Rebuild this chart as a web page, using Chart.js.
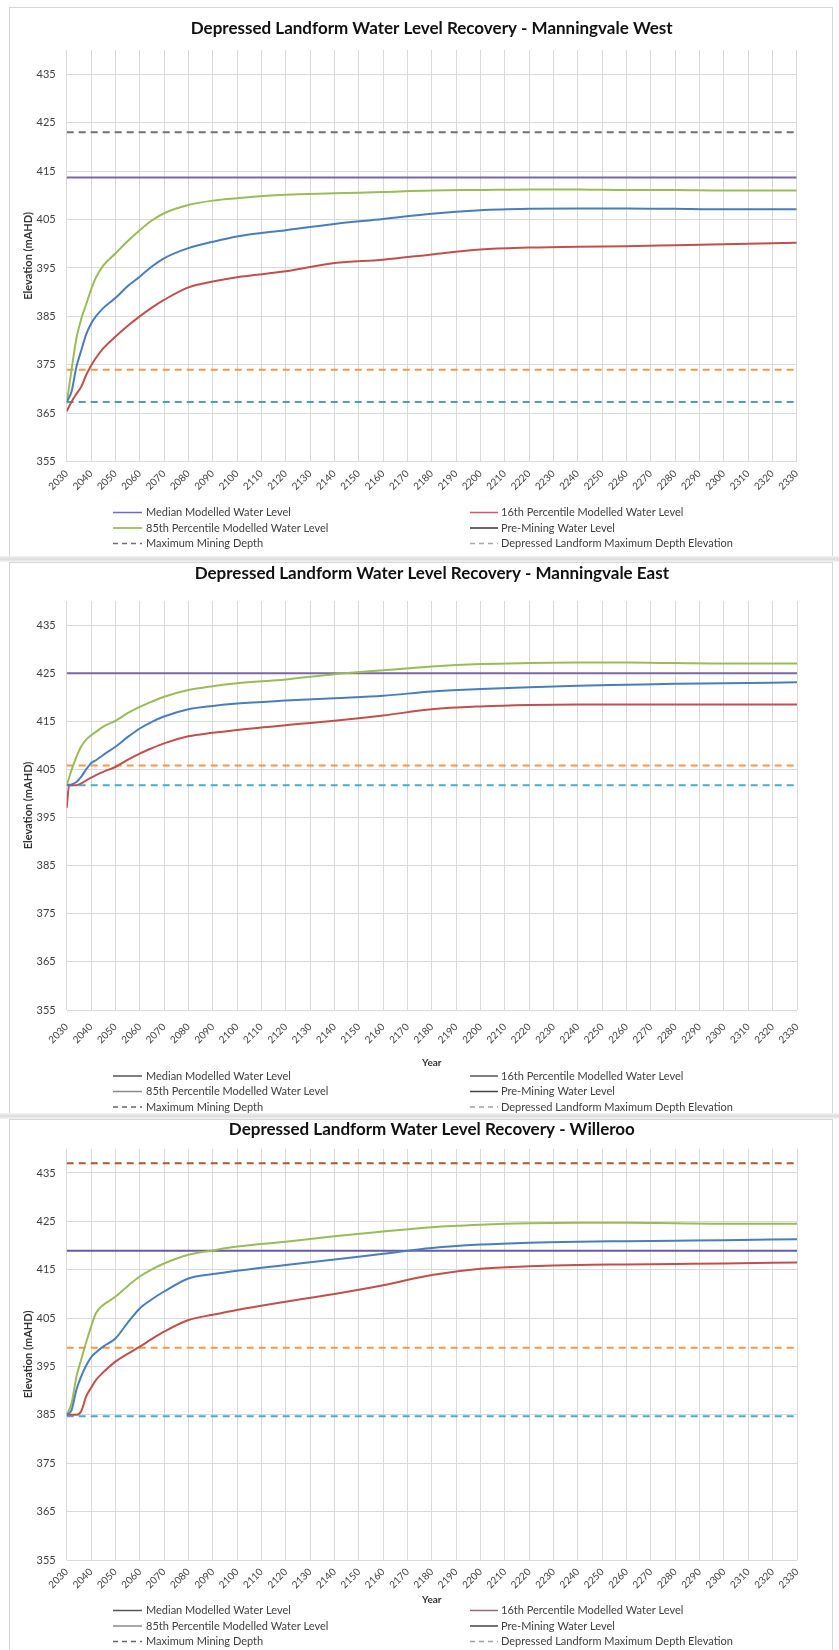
<!DOCTYPE html>
<html>
<head>
<meta charset="utf-8">
<script src="https://cdn.jsdelivr.net/npm/chart.js@4.4.1/dist/chart.umd.min.js"></script>
<style>
  html, body { margin: 0; padding: 0; background: #fff; }
  body { width: 839px; height: 1650px; position: relative; overflow: hidden; }
  .panel { position: absolute; left: 0; }
  .frame { position: absolute; border: 1px solid #d6d6d6; box-sizing: border-box; }
  .band { position: absolute; left: 0; width: 839px; height: 6px;
          background: linear-gradient(#f4f4f4, #dcdcdc, #f4f4f4); }
</style>
</head>
<body>
<div class="frame" style="left:9px;top:7px;width:824px;height:550px"></div>
<div class="band" style="top:556px"></div>
<div class="frame" style="left:9px;top:562px;width:824px;height:552px"></div>
<div class="band" style="top:1113px"></div>
<div class="frame" style="left:9px;top:1119px;width:824px;height:540px"></div>

<canvas id="mw" class="panel" style="top:0px" width="839" height="558"></canvas>
<canvas id="me" class="panel" style="top:558px" width="839" height="558"></canvas>
<canvas id="wl" class="panel" style="top:1116px" width="839" height="534"></canvas>

<script>
// ---- Axis ticks ----
const yTicks = [355, 365, 375, 385, 395, 405, 415, 425, 435];
const xTicks = [2030, 2040, 2050, 2060, 2070, 2080, 2090, 2100, 2110, 2120, 2130, 2140, 2150, 2160,
                2170, 2180, 2190, 2200, 2210, 2220, 2230, 2240, 2250, 2260, 2270, 2280, 2290, 2300,
                2310, 2320, 2330];

const legendLabels = [
  'Median Modelled Water Level',
  '16th Percentile Modelled Water Level',
  '85th Percentile Modelled Water Level',
  'Pre-Mining Water Level',
  'Maximum Mining Depth',
  'Depressed Landform Maximum Depth Elevation'
];

// ---- Manningvale West ----
const mwYears  = [2030, 2032, 2034, 2036, 2038, 2040, 2042, 2045, 2050, 2055, 2060, 2065, 2070, 2080,
                  2090, 2100, 2120, 2140, 2160, 2180, 2200, 2220, 2240, 2260, 2280, 2300, 2330];
const mwMedian = [367.3, 369.5, 374.6, 378.0, 381.3, 383.5, 385.0, 386.7, 388.8, 391.2, 393.2, 395.3, 397.0, 399.1,
                  400.4, 401.5, 402.8, 404.1, 405.1, 406.2, 406.9, 407.2, 407.3, 407.3, 407.2, 407.1, 407.1];
const mw16th   = [365.4, 367.4, 369.0, 370.5, 372.9, 374.8, 376.4, 378.4, 380.8, 383.0, 385.0, 386.8, 388.4, 391.0,
                  392.2, 393.1, 394.3, 396.0, 396.7, 397.8, 398.8, 399.2, 399.4, 399.5, 399.7, 399.9, 400.2];
const mw85th   = [367.0, 374.0, 380.5, 384.5, 387.5, 390.5, 393.0, 395.5, 398.0, 400.5, 402.8, 404.8, 406.3, 408.0,
                  408.9, 409.4, 410.1, 410.4, 410.7, 411.0, 411.1, 411.2, 411.2, 411.1, 411.1, 411.0, 411.0];
const mwPreMining = 413.7;
const mwUpperDash = 423.0;
const mwMaxMiningDepth = 374.0;
const mwLandformDepth = 367.3;

// ---- Manningvale East ----
const meYears  = [2030, 2031, 2032, 2034, 2036, 2038, 2040, 2042, 2045, 2050, 2055, 2060, 2065, 2070,
                  2080, 2090, 2100, 2120, 2140, 2160, 2180, 2200, 2220, 2240, 2260, 2280, 2300, 2330];
const meMedian = [401.7, 401.8, 401.9, 402.4, 403.5, 405.0, 406.3, 406.9, 408.0, 409.7, 411.7, 413.5, 414.9, 416.0,
                  417.5, 418.2, 418.7, 419.3, 419.8, 420.3, 421.2, 421.7, 422.1, 422.4, 422.6, 422.8, 422.9, 423.1];
const me16th   = [397.0, 401.7, 401.7, 401.7, 402.1, 402.7, 403.3, 403.8, 404.5, 405.5, 407.0, 408.3, 409.4, 410.4,
                  411.9, 412.6, 413.2, 414.2, 415.1, 416.2, 417.5, 418.1, 418.4, 418.5, 418.5, 418.5, 418.5, 418.5];
const me85th   = [401.7, 403.3, 404.9, 407.6, 409.8, 411.2, 412.1, 412.8, 413.9, 415.1, 416.7, 418.0, 419.1, 420.1,
                  421.5, 422.3, 422.9, 423.7, 424.8, 425.6, 426.4, 426.9, 427.1, 427.2, 427.2, 427.1, 427.0, 427.0];
const mePreMining = 425.0;
const meMaxMiningDepth = 405.8;
const meLandformDepth = 401.7;

// ---- Willeroo ----
const wlYears  = [2030, 2032, 2034, 2036, 2038, 2040, 2042, 2045, 2050, 2055, 2060, 2065, 2070, 2080,
                  2090, 2100, 2120, 2140, 2160, 2180, 2200, 2220, 2240, 2260, 2280, 2300, 2330];
const wlMedian = [385.0, 386.0, 390.2, 393.0, 395.2, 396.9, 397.9, 399.1, 400.8, 404.0, 407.0, 408.9, 410.5, 413.2,
                  414.1, 414.8, 416.0, 417.1, 418.3, 419.5, 420.2, 420.6, 420.8, 420.9, 421.0, 421.1, 421.3];
const wl16th   = [385.0, 385.0, 385.0, 385.8, 388.8, 390.6, 392.2, 393.8, 396.0, 397.6, 399.1, 400.7, 402.2, 404.6,
                  405.7, 406.7, 408.4, 410.0, 411.8, 413.9, 415.2, 415.7, 416.0, 416.1, 416.2, 416.3, 416.5];
const wl85th   = [385.0, 387.4, 392.9, 396.5, 400.0, 403.2, 406.0, 407.7, 409.4, 411.6, 413.6, 415.1, 416.3, 418.1,
                  419.0, 419.8, 420.8, 421.9, 422.9, 423.8, 424.3, 424.6, 424.7, 424.7, 424.6, 424.5, 424.5];
const wlPreMining = 418.9;
const wlUpperDash = 437.0;
const wlMaxMiningDepth = 398.9;
const wlLandformDepth = 384.7;

// ---- helpers ----
const FONT = 'Lato, "Open Sans", "DejaVu Sans", sans-serif';
const pts = (xs, ys) => xs.map((x, i) => ({ x: x, y: ys[i] }));
const flat = v => [{ x: xTicks[0], y: v }, { x: xTicks[xTicks.length - 1], y: v }];

function curve(label, xs, ys, color) {
  return { label, data: pts(xs, ys), borderColor: color, borderWidth: 2,
           pointRadius: 0, cubicInterpolationMode: 'monotone', fill: false };
}
function level(label, v, color, dashed) {
  return { label, data: flat(v), borderColor: color, borderWidth: 2,
           borderDash: dashed ? [7, 5] : [], pointRadius: 0, fill: false };
}

// two-column legend under the plot
const gridLegend = {
  id: 'gridLegend',
  afterDraw(chart, args, opts) {
    if (!opts || !opts.items) return;
    const ctx = chart.ctx;
    ctx.save();
    ctx.font = opts.font;
    ctx.textBaseline = 'middle';
    ctx.textAlign = 'left';
    opts.items.forEach((it, i) => {
      const col = opts.columns[i % 2];
      const y = opts.rows[Math.floor(i / 2)];
      ctx.strokeStyle = it.color;
      ctx.lineWidth = 1.5;
      ctx.setLineDash(it.dash ? [5, 4] : []);
      ctx.beginPath();
      ctx.moveTo(col.x0, y);
      ctx.lineTo(col.x1, y);
      ctx.stroke();
      ctx.setLineDash([]);
      ctx.fillStyle = opts.color;
      ctx.fillText(it.text, col.tx, y);
    });
    ctx.restore();
  }
};

function build(id, cfg) {
  const lay = cfg.layout;   // pixel targets within the canvas
  const canvas = document.getElementById(id);
  const H = canvas.height, W = canvas.width;
  const titleSize = 17;
  const titleLH = titleSize * 1.2;
  const yAxisW = 60;
  const xAxisH = lay.xAxisH;
  const padLeft = lay.plotLeft - yAxisW;
  const padRight = W - lay.plotRight;
  const padBottom = H - lay.plotBottom - xAxisH;
  const tTop = lay.titleY - titleLH / 2;
  const tBottom = lay.plotTop - tTop - titleLH;

  new Chart(canvas, {
    type: 'line',
    data: { datasets: cfg.datasets },
    plugins: [gridLegend],
    options: {
      responsive: false,
      animation: false,
      devicePixelRatio: 1,
      layout: { padding: { left: padLeft, right: padRight, top: 0, bottom: padBottom } },
      plugins: {
        legend: { display: false },
        tooltip: { enabled: false },
        title: {
          display: true, text: cfg.title, fullSize: false, color: '#111',
          font: { family: FONT, size: titleSize, weight: 'bold', lineHeight: 1.2 },
          padding: { top: tTop, bottom: tBottom }
        },
        gridLegend: {
          font: '11px ' + FONT, color: '#404040',
          rows: lay.legendRows,
          columns: [{ x0: 113, x1: 142, tx: 146 }, { x0: 470, x1: 498, tx: 501 }],
          items: cfg.legend
        }
      },
      scales: {
        x: {
          type: 'linear', min: xTicks[0], max: xTicks[xTicks.length - 1],
          afterBuildTicks: ax => { ax.ticks = xTicks.map(v => ({ value: v })); },
          afterFit: ax => { ax.height = xAxisH; },
          ticks: { autoSkip: false, minRotation: 45, maxRotation: 45, padding: lay.xLabelPad,
                   color: '#404040', font: { family: FONT, size: 10 },
                   callback: v => String(v) },
          grid: { color: '#d9d9d9', lineWidth: 1, drawTicks: false },
          border: { display: false },
          title: { display: cfg.showYear, text: 'Year', color: '#333',
                   font: { family: FONT, size: 10, weight: 'bold', lineHeight: 1.2 },
                   padding: { top: 0, bottom: 2 } }
        },
        y: {
          type: 'linear', min: 355, max: 440,
          afterBuildTicks: ax => { ax.ticks = yTicks.map(v => ({ value: v })); },
          afterFit: ax => { ax.width = yAxisW; },
          ticks: { padding: 11, color: '#404040', font: { family: FONT, size: 11 },
                   callback: v => String(v) },
          grid: { color: '#d9d9d9', lineWidth: 1, drawTicks: false },
          border: { display: false },
          title: { display: true, text: 'Elevation (mAHD)', color: '#333',
                   font: { family: FONT, size: 11, weight: 'bold', lineHeight: 1.2 },
                   padding: { top: 15, bottom: 0 } }
        }
      }
    }
  });
}

const colMedian = '#4a7ebb', col16 = '#c0504d', col85 = '#9bbb59', colPre = '#7b66a8';
const colOrange = '#f79646', colTeal = '#4bacc6';

build('mw', {
  title: 'Depressed Landform Water Level Recovery - Manningvale West',
  showYear: false,
  layout: { titleY: 28.3, plotTop: 50, plotBottom: 461.7, plotLeft: 66.7, plotRight: 796.7,
            xAxisH: 34, xLabelPad: 6, legendRows: [512.5, 528, 543.5] },
  datasets: [
    curve(legendLabels[0], mwYears, mwMedian, colMedian),
    curve(legendLabels[1], mwYears, mw16th, col16),
    curve(legendLabels[2], mwYears, mw85th, col85),
    level(legendLabels[3], mwPreMining, colPre, false),
    level('Upper Level', mwUpperDash, '#707070', true),
    level(legendLabels[4], mwMaxMiningDepth, colOrange, true),
    level(legendLabels[5], mwLandformDepth, '#4f9ea5', true)
  ],
  legend: [
    { text: legendLabels[0], color: '#6b6fc4' },
    { text: legendLabels[1], color: '#d4566e' },
    { text: legendLabels[2], color: '#8fae3c' },
    { text: legendLabels[3], color: '#333333' },
    { text: legendLabels[4], color: '#707070', dash: true },
    { text: legendLabels[5], color: '#a8a8a8', dash: true }
  ]
});

build('me', {
  title: 'Depressed Landform Water Level Recovery - Manningvale East',
  showYear: true,
  layout: { titleY: 15.5, plotTop: 43, plotBottom: 452, plotLeft: 66.7, plotRight: 797,
            xAxisH: 61, xLabelPad: 11, legendRows: [518, 533.5, 549] },
  datasets: [
    curve(legendLabels[0], meYears, meMedian, colMedian),
    curve(legendLabels[1], meYears, me16th, col16),
    curve(legendLabels[2], meYears, me85th, col85),
    level(legendLabels[3], mePreMining, colPre, false),
    level(legendLabels[4], meMaxMiningDepth, colOrange, true),
    level(legendLabels[5], meLandformDepth, colTeal, true)
  ],
  legend: [
    { text: legendLabels[0], color: '#555555' },
    { text: legendLabels[1], color: '#555555' },
    { text: legendLabels[2], color: '#8a8a8a' },
    { text: legendLabels[3], color: '#444444' },
    { text: legendLabels[4], color: '#666666', dash: true },
    { text: legendLabels[5], color: '#a0a0a0', dash: true }
  ]
});

build('wl', {
  title: 'Depressed Landform Water Level Recovery - Willeroo',
  showYear: true,
  layout: { titleY: 14, plotTop: 32.8, plotBottom: 444, plotLeft: 66.7, plotRight: 797,
            xAxisH: 48, xLabelPad: 6, legendRows: [494.5, 510, 525.5] },
  datasets: [
    curve(legendLabels[0], wlYears, wlMedian, colMedian),
    curve(legendLabels[1], wlYears, wl16th, col16),
    curve(legendLabels[2], wlYears, wl85th, col85),
    level(legendLabels[3], wlPreMining, '#6a5aa6', false),
    level('Upper Level', wlUpperDash, '#a85a32', true),
    level(legendLabels[4], wlMaxMiningDepth, colOrange, true),
    level(legendLabels[5], wlLandformDepth, colTeal, true)
  ],
  legend: [
    { text: legendLabels[0], color: '#555555' },
    { text: legendLabels[1], color: '#9a6a72' },
    { text: legendLabels[2], color: '#8a8a8a' },
    { text: legendLabels[3], color: '#444444' },
    { text: legendLabels[4], color: '#666666', dash: true },
    { text: legendLabels[5], color: '#a0a0a0', dash: true }
  ]
});
</script>
</body>
</html>
